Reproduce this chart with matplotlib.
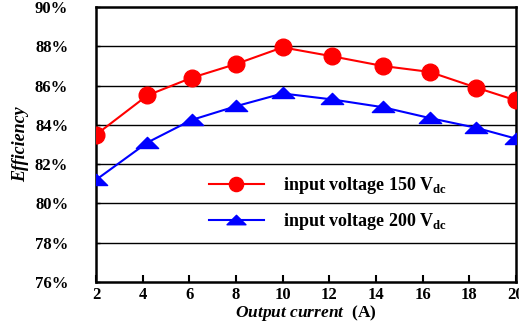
import matplotlib
matplotlib.use("Agg")
import matplotlib.pyplot as plt
from matplotlib.path import Path

current_150 = [2, 4.2, 6.1, 8, 10, 12.1, 14.3, 16.3, 18.3, 20]
eff_150 = [83.5, 85.5, 86.4, 87.1, 87.95, 87.5, 87.0, 86.7, 85.9, 85.25]
current_200 = [2, 4.2, 6.1, 8, 10, 12.1, 14.3, 16.3, 18.3, 20]
eff_200 = [81.2, 83.1, 84.25, 84.95, 85.6, 85.3, 84.9, 84.35, 83.85, 83.3]
xticks = [2, 4, 6, 8, 10, 12, 14, 16, 18, 20]
yticks = [76, 78, 80, 82, 84, 86, 88, 90]
label_150 = r"input voltage 150 V$_{\mathbf{dc}}$"
label_200 = r"input voltage 200 V$_{\mathbf{dc}}$"

plt.rcParams['font.family'] = ['Liberation Serif', 'DejaVu Serif']
plt.rcParams['mathtext.fontset'] = 'custom'
plt.rcParams['mathtext.rm'] = 'Liberation Serif:bold'
plt.rcParams['mathtext.bf'] = 'Liberation Serif:bold'

flat_tri = Path([(-1, -0.45), (1, -0.45), (0, 0.55), (-1, -0.45)],
                [Path.MOVETO, Path.LINETO, Path.LINETO, Path.CLOSEPOLY])

fig = plt.figure(figsize=(5.19, 3.24), dpi=100)
ax = fig.add_axes([0.185, 0.130, 0.809, 0.848])

for y in yticks[1:-1]:
    ax.axhline(y, color='black', lw=1.0, zorder=1)

ax.plot(current_150, eff_150, color='#ff0000', lw=1.5, marker='o', ms=12,
        markerfacecolor='#ff0000', markeredgecolor='#ff0000', zorder=3, label=label_150)
ax.plot(current_200, eff_200, color='#0000ff', lw=1.5, marker=flat_tri, ms=16,
        markerfacecolor='#0000ff', markeredgecolor='#0000ff', zorder=3, label=label_200)

ax.set_xlim(2, 20)
ax.set_ylim(76, 90)
ax.set_xticks(xticks)
ax.set_xticklabels([str(t) for t in xticks], fontweight='bold', fontsize=12)
ax.set_yticks(yticks)
ax.set_yticklabels([f"{t}%" for t in yticks], fontweight='bold', fontsize=12)
ax.tick_params(axis='x', direction='in', length=5, width=1.5, pad=4)
ax.tick_params(axis='y', direction='in', length=3, width=1, pad=20)
for s in ax.spines.values():
    s.set_linewidth(1.8)
    s.set_color('black')

ax.set_ylabel("Efficiency", fontstyle='italic', fontweight='bold', fontsize=13, labelpad=4)
ax.set_xlabel(r"Output current  $\mathbf{(A)}$", fontstyle='italic', fontweight='bold',
              fontsize=12.5, labelpad=0)

leg = ax.legend(loc='center left', bbox_to_anchor=(0.27, 0.285), frameon=False,
                prop={'weight': 'bold', 'size': 13}, handlelength=3.0,
                labelspacing=0.85, handletextpad=1.1, markerscale=0.85,
                borderaxespad=0, borderpad=0)

fig.savefig("out.png", dpi=100)
